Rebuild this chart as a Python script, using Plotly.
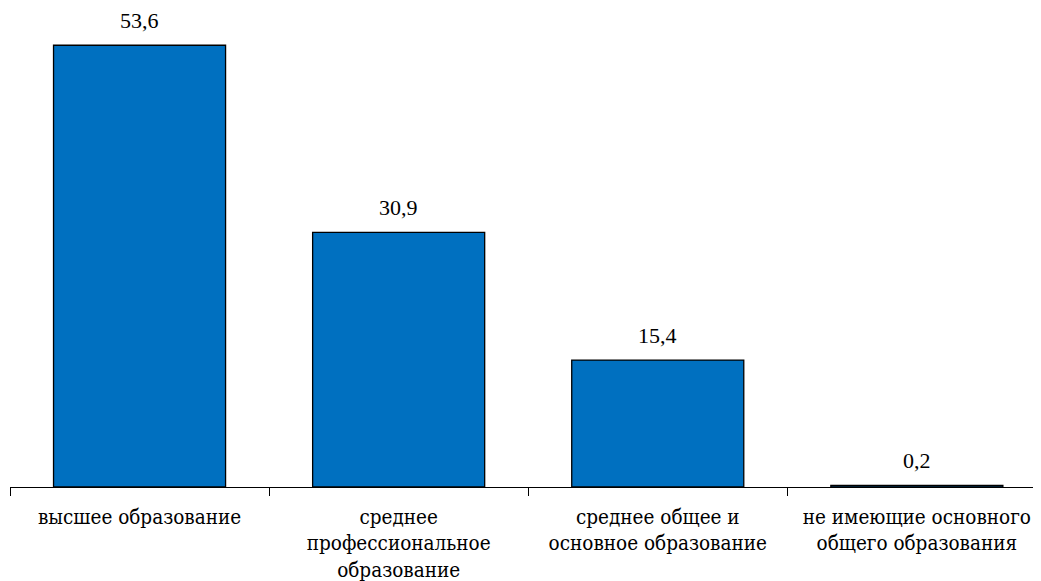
import plotly.graph_objects as go

categories = [
    "высшее образование",
    "среднее<br>профессиональное<br>образование",
    "среднее общее и<br>основное образование",
    "не имеющие основного<br>общего образования",
]
values = [53.6, 30.9, 15.4, 0.2]
value_labels = ["53,6", "30,9", "15,4", "0,2"]

num_font = "Liberation Serif, Times New Roman, serif"
cat_font = "DejaVu Serif Condensed, DejaVu Serif"

fig = go.Figure(
    go.Bar(
        x=categories,
        y=values,
        marker=dict(color="#0070C0", line=dict(color="#000000", width=1.3)),
        width=0.664,
        hoverinfo="skip",
    )
)

for c, v, t in zip(categories, values, value_labels):
    fig.add_annotation(
        x=c, y=v, text=t, showarrow=False, yanchor="middle", yshift=25,
        font=dict(family=num_font, size=22, color="#000000"),
    )

fig.update_layout(
    width=1041,
    height=581,
    margin=dict(l=2, r=0, t=1, b=102),
    plot_bgcolor="white",
    paper_bgcolor="white",
    showlegend=False,
    font=dict(family=num_font, size=20, color="#000000"),
)
fig.update_xaxes(
    type="category",
    range=[-0.5, 3.51],
    showline=True,
    linecolor="#000000",
    linewidth=1.3,
    ticks="outside",
    tickson="boundaries",
    ticklen=8,
    tickwidth=1.3,
    tickcolor="#000000",
    showgrid=False,
    ticklabelstandoff=11,
    tickfont=dict(family=cat_font, size=20.5, color="#000000"),
)
fig.update_yaxes(
    range=[0, 58],
    visible=False,
    showgrid=False,
    zeroline=False,
)

fig.write_html("out.html")
